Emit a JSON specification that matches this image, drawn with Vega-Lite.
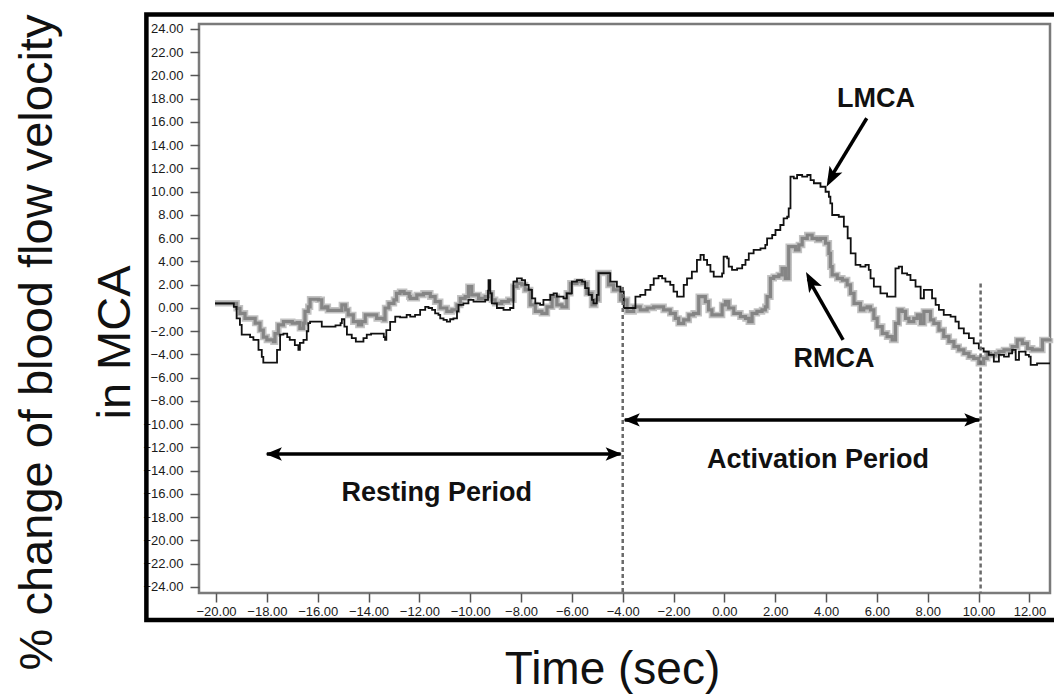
{
  "$schema": "https://vega.github.io/schema/vega-lite/v6.json",
  "width": 851,
  "height": 569,
  "autosize": "none",
  "padding": {"left": 199, "top": 24, "right": 4, "bottom": 102},
  "background": "white",
  "config": {
    "view": {"stroke": "#7a7a7a", "strokeWidth": 2.5},
    "font": "Liberation Sans"
  },
  "datasets": {
    "frame": [{"t": -22.74, "t2": 13.4, "v": -26.84, "v2": 25.25}],
    "lmca": [
      {"t": -20.04, "v": 0.4}, {"t": -19.3, "v": 0.1}, {"t": -19.19, "v": -0.9}, {"t": -19.06, "v": -1.46},
      {"t": -18.99, "v": -2.3}, {"t": -18.66, "v": -2.5}, {"t": -18.53, "v": -2.75}, {"t": -18.33, "v": -3.6},
      {"t": -18.2, "v": -4.2}, {"t": -18.14, "v": -4.7}, {"t": -17.6, "v": -3.6}, {"t": -17.48, "v": -2.3},
      {"t": -17.35, "v": -2.2}, {"t": -17.2, "v": -2.5}, {"t": -17.1, "v": -2.75}, {"t": -16.9, "v": -3.2},
      {"t": -16.76, "v": -3.6}, {"t": -16.7, "v": -3.0}, {"t": -16.56, "v": -2.75}, {"t": -16.43, "v": -2.0},
      {"t": -16.37, "v": -1.3}, {"t": -16.3, "v": -1.18}, {"t": -15.84, "v": -1.6}, {"t": -15.3, "v": -1.5},
      {"t": -15.1, "v": -1.3}, {"t": -15.05, "v": -0.97}, {"t": -14.95, "v": -1.6}, {"t": -14.85, "v": -2.3},
      {"t": -14.66, "v": -2.6}, {"t": -14.5, "v": -2.9}, {"t": -14.2, "v": -2.6}, {"t": -14.07, "v": -2.3},
      {"t": -13.9, "v": -2.2}, {"t": -13.4, "v": -2.5}, {"t": -13.35, "v": -2.75}, {"t": -13.3, "v": -1.9},
      {"t": -13.15, "v": -1.2}, {"t": -12.95, "v": -0.75}, {"t": -12.76, "v": -0.8}, {"t": -12.5, "v": -0.6},
      {"t": -12.36, "v": -0.75}, {"t": -12.17, "v": -0.6}, {"t": -11.97, "v": -0.17}, {"t": -11.77, "v": 0.1},
      {"t": -11.64, "v": 0.0}, {"t": -11.5, "v": -0.17}, {"t": -11.38, "v": -0.46}, {"t": -11.25, "v": -0.6},
      {"t": -11.18, "v": -0.9}, {"t": -11.05, "v": -1.03}, {"t": -10.92, "v": -1.18}, {"t": -10.79, "v": -0.97},
      {"t": -10.66, "v": -0.9}, {"t": -10.52, "v": -0.3}, {"t": -10.46, "v": 0.26}, {"t": -10.27, "v": 0.4},
      {"t": -10.07, "v": 0.7}, {"t": -9.87, "v": 0.54}, {"t": -9.41, "v": 0.7}, {"t": -9.3, "v": 1.5},
      {"t": -9.28, "v": 2.4}, {"t": -9.21, "v": 1.26}, {"t": -9.15, "v": 0.4}, {"t": -8.95, "v": 0.0},
      {"t": -8.69, "v": -0.17}, {"t": -8.43, "v": 0.0}, {"t": -8.3, "v": 2.26}, {"t": -8.16, "v": 2.55},
      {"t": -7.97, "v": 2.4}, {"t": -7.84, "v": 1.98}, {"t": -7.7, "v": 1.55}, {"t": -7.57, "v": 0.83},
      {"t": -7.44, "v": 0.4}, {"t": -7.25, "v": 0.26}, {"t": -7.12, "v": 0.7}, {"t": -6.85, "v": 1.12},
      {"t": -6.72, "v": 1.26}, {"t": -6.59, "v": 0.97}, {"t": -6.33, "v": 0.83}, {"t": -6.2, "v": 1.26},
      {"t": -6.0, "v": 2.26}, {"t": -5.8, "v": 2.4}, {"t": -5.6, "v": 2.26}, {"t": -5.48, "v": 1.7},
      {"t": -5.34, "v": 1.12}, {"t": -5.21, "v": 0.7}, {"t": -5.15, "v": 0.4}, {"t": -5.02, "v": 1.12},
      {"t": -4.95, "v": 3.0}, {"t": -4.62, "v": 3.0}, {"t": -4.49, "v": 2.26}, {"t": -4.23, "v": 1.83},
      {"t": -4.09, "v": 1.4}, {"t": -3.96, "v": 0.0}, {"t": -3.7, "v": 0.0}, {"t": -3.5, "v": 0.97},
      {"t": -3.31, "v": 1.12}, {"t": -3.11, "v": 1.55}, {"t": -2.91, "v": 1.98}, {"t": -2.78, "v": 2.55},
      {"t": -2.59, "v": 2.75}, {"t": -2.45, "v": 2.55}, {"t": -2.32, "v": 2.26}, {"t": -2.13, "v": 1.98},
      {"t": -2.0, "v": 1.4}, {"t": -1.86, "v": 0.97}, {"t": -1.6, "v": 1.98}, {"t": -1.47, "v": 2.55},
      {"t": -1.28, "v": 3.12}, {"t": -1.08, "v": 4.13}, {"t": -0.94, "v": 4.56}, {"t": -0.81, "v": 4.13},
      {"t": -0.68, "v": 3.7}, {"t": -0.55, "v": 3.12}, {"t": -0.42, "v": 2.69}, {"t": -0.09, "v": 2.98},
      {"t": -0.03, "v": 4.41}, {"t": 0.11, "v": 4.27}, {"t": 0.17, "v": 3.55}, {"t": 0.3, "v": 3.27},
      {"t": 0.5, "v": 3.41}, {"t": 0.7, "v": 3.7}, {"t": 0.83, "v": 4.13}, {"t": 0.96, "v": 4.7},
      {"t": 1.15, "v": 4.99}, {"t": 1.42, "v": 5.13}, {"t": 1.61, "v": 5.42}, {"t": 1.68, "v": 5.99},
      {"t": 1.88, "v": 6.28}, {"t": 2.01, "v": 6.71}, {"t": 2.2, "v": 7.14}, {"t": 2.33, "v": 7.71},
      {"t": 2.47, "v": 7.85}, {"t": 2.53, "v": 8.57}, {"t": 2.6, "v": 11.3}, {"t": 2.73, "v": 11.15},
      {"t": 2.86, "v": 11.44}, {"t": 3.06, "v": 11.3}, {"t": 3.26, "v": 11.44}, {"t": 3.39, "v": 11.0},
      {"t": 3.52, "v": 10.73}, {"t": 3.78, "v": 10.43}, {"t": 3.98, "v": 10.0}, {"t": 4.11, "v": 9.57},
      {"t": 4.17, "v": 9.0}, {"t": 4.24, "v": 8.0}, {"t": 4.5, "v": 7.85}, {"t": 4.7, "v": 7.0},
      {"t": 4.85, "v": 6.0}, {"t": 4.97, "v": 4.7}, {"t": 5.16, "v": 3.7}, {"t": 5.35, "v": 3.55},
      {"t": 5.55, "v": 3.7}, {"t": 5.68, "v": 3.27}, {"t": 5.75, "v": 2.55}, {"t": 5.88, "v": 1.83},
      {"t": 6.14, "v": 1.26}, {"t": 6.4, "v": 0.97}, {"t": 6.73, "v": 3.41}, {"t": 6.86, "v": 3.55},
      {"t": 6.99, "v": 2.98}, {"t": 7.19, "v": 2.84}, {"t": 7.32, "v": 2.4}, {"t": 7.52, "v": 1.83},
      {"t": 7.72, "v": 0.83}, {"t": 7.85, "v": 1.55}, {"t": 8.17, "v": 0.83}, {"t": 8.31, "v": 0.26},
      {"t": 8.44, "v": -0.17}, {"t": 8.63, "v": -0.6}, {"t": 8.9, "v": -0.75}, {"t": 9.09, "v": -1.18},
      {"t": 9.22, "v": -1.75}, {"t": 9.42, "v": -2.18}, {"t": 9.62, "v": -2.6}, {"t": 9.81, "v": -3.04},
      {"t": 10.01, "v": -3.47}, {"t": 10.2, "v": -3.76}, {"t": 10.4, "v": -4.04}, {"t": 10.6, "v": -4.62},
      {"t": 10.8, "v": -4.04}, {"t": 11.0, "v": -4.19}, {"t": 11.19, "v": -3.9}, {"t": 11.32, "v": -3.61},
      {"t": 11.46, "v": -4.47}, {"t": 11.59, "v": -3.76}, {"t": 11.85, "v": -4.04}, {"t": 11.98, "v": -4.19},
      {"t": 12.05, "v": -4.9}, {"t": 12.3, "v": -4.76}, {"t": 12.81, "v": -4.76}
    ],
    "rmca": [
      {"t": -20.04, "v": 0.4}, {"t": -19.3, "v": 0.4}, {"t": -19.19, "v": -0.03}, {"t": -19.06, "v": -0.46},
      {"t": -18.86, "v": -0.9}, {"t": -18.46, "v": -1.3}, {"t": -18.27, "v": -1.9}, {"t": -18.14, "v": -2.5},
      {"t": -18.0, "v": -2.75}, {"t": -17.74, "v": -2.9}, {"t": -17.68, "v": -2.2}, {"t": -17.55, "v": -1.46},
      {"t": -17.35, "v": -1.18}, {"t": -17.0, "v": -1.3}, {"t": -16.8, "v": -1.26}, {"t": -16.7, "v": -1.75},
      {"t": -16.56, "v": -1.3}, {"t": -16.5, "v": -0.3}, {"t": -16.37, "v": 0.1}, {"t": -16.3, "v": 0.75},
      {"t": -15.97, "v": 0.7}, {"t": -15.84, "v": 0.0}, {"t": -15.7, "v": 0.1}, {"t": -15.6, "v": -0.2},
      {"t": -15.05, "v": 0.26}, {"t": -14.9, "v": -0.17}, {"t": -14.8, "v": -0.6}, {"t": -14.6, "v": -1.18},
      {"t": -14.4, "v": -1.46}, {"t": -14.27, "v": -1.18}, {"t": -14.13, "v": -0.6}, {"t": -13.68, "v": -0.9},
      {"t": -13.4, "v": -1.03}, {"t": -13.35, "v": 0.0}, {"t": -13.2, "v": 0.4}, {"t": -13.0, "v": 0.7},
      {"t": -12.9, "v": 1.26}, {"t": -12.76, "v": 1.4}, {"t": -12.6, "v": 1.26}, {"t": -12.4, "v": 0.97},
      {"t": -12.36, "v": 0.83}, {"t": -12.1, "v": 1.12}, {"t": -11.84, "v": 1.26}, {"t": -11.57, "v": 0.97},
      {"t": -11.38, "v": 0.54}, {"t": -11.18, "v": 0.0}, {"t": -10.92, "v": -0.3}, {"t": -10.72, "v": -0.17},
      {"t": -10.52, "v": 0.26}, {"t": -10.39, "v": 0.83}, {"t": -10.2, "v": 0.97}, {"t": -10.07, "v": 1.83},
      {"t": -9.94, "v": 1.12}, {"t": -9.67, "v": 0.83}, {"t": -9.41, "v": 0.97}, {"t": -9.28, "v": 1.26},
      {"t": -9.15, "v": 0.7}, {"t": -9.02, "v": 0.4}, {"t": -8.76, "v": 0.54}, {"t": -8.5, "v": 0.7},
      {"t": -8.3, "v": 1.83}, {"t": -8.16, "v": 2.12}, {"t": -7.97, "v": 1.98}, {"t": -7.84, "v": 1.55},
      {"t": -7.64, "v": 0.26}, {"t": -7.44, "v": -0.3}, {"t": -7.18, "v": -0.46}, {"t": -6.98, "v": 0.1},
      {"t": -6.78, "v": 0.97}, {"t": -6.59, "v": 0.26}, {"t": -6.39, "v": 0.1}, {"t": -6.2, "v": 1.26},
      {"t": -6.06, "v": 2.12}, {"t": -5.8, "v": 2.26}, {"t": -5.6, "v": 2.12}, {"t": -5.41, "v": 1.26},
      {"t": -5.21, "v": 0.26}, {"t": -5.08, "v": 0.7}, {"t": -4.95, "v": 3.0}, {"t": -4.62, "v": 3.0},
      {"t": -4.56, "v": 1.98}, {"t": -4.36, "v": 1.55}, {"t": -4.09, "v": 0.7}, {"t": -3.83, "v": -0.3},
      {"t": -3.57, "v": 0.1}, {"t": -3.31, "v": -0.17}, {"t": -3.04, "v": 0.0}, {"t": -2.78, "v": 0.1},
      {"t": -2.39, "v": -0.17}, {"t": -2.13, "v": -0.46}, {"t": -1.93, "v": -0.9}, {"t": -1.8, "v": -1.32},
      {"t": -1.6, "v": -1.03}, {"t": -1.4, "v": -0.6}, {"t": -1.21, "v": -0.46}, {"t": -1.01, "v": 0.97},
      {"t": -0.75, "v": 0.54}, {"t": -0.62, "v": -0.17}, {"t": -0.49, "v": -0.6}, {"t": -0.09, "v": 0.26},
      {"t": 0.04, "v": 0.54}, {"t": 0.17, "v": 0.0}, {"t": 0.37, "v": -0.46}, {"t": 0.63, "v": -0.75},
      {"t": 0.83, "v": -0.9}, {"t": 0.96, "v": -1.18}, {"t": 1.09, "v": -0.46}, {"t": 1.28, "v": -0.3},
      {"t": 1.48, "v": -0.17}, {"t": 1.61, "v": 0.1}, {"t": 1.68, "v": 0.97}, {"t": 1.81, "v": 2.55},
      {"t": 1.94, "v": 2.69}, {"t": 2.14, "v": 2.84}, {"t": 2.27, "v": 3.41}, {"t": 2.4, "v": 2.55},
      {"t": 2.53, "v": 5.27}, {"t": 2.8, "v": 4.99}, {"t": 2.93, "v": 5.42}, {"t": 3.06, "v": 5.99},
      {"t": 3.26, "v": 6.28}, {"t": 3.45, "v": 5.99}, {"t": 3.65, "v": 5.85}, {"t": 3.78, "v": 5.99},
      {"t": 3.98, "v": 5.57}, {"t": 4.11, "v": 4.7}, {"t": 4.17, "v": 3.55}, {"t": 4.24, "v": 2.84},
      {"t": 4.44, "v": 2.55}, {"t": 4.64, "v": 2.4}, {"t": 4.83, "v": 1.98}, {"t": 4.96, "v": 1.26},
      {"t": 5.1, "v": 0.4}, {"t": 5.35, "v": -0.17}, {"t": 5.48, "v": 0.0}, {"t": 5.62, "v": 0.1},
      {"t": 5.75, "v": -0.17}, {"t": 5.88, "v": -0.9}, {"t": 6.01, "v": -1.6}, {"t": 6.21, "v": -2.18},
      {"t": 6.4, "v": -2.47}, {"t": 6.6, "v": -2.75}, {"t": 6.73, "v": -1.32}, {"t": 6.86, "v": -0.17},
      {"t": 6.99, "v": -0.3}, {"t": 7.13, "v": -0.9}, {"t": 7.26, "v": -1.18}, {"t": 7.45, "v": -0.9},
      {"t": 7.59, "v": -0.6}, {"t": 7.72, "v": -1.32}, {"t": 7.85, "v": -0.3}, {"t": 8.11, "v": -1.03},
      {"t": 8.24, "v": -1.32}, {"t": 8.44, "v": -1.9}, {"t": 8.63, "v": -2.47}, {"t": 8.83, "v": -2.9},
      {"t": 9.03, "v": -3.33}, {"t": 9.22, "v": -3.61}, {"t": 9.42, "v": -3.9}, {"t": 9.62, "v": -4.19},
      {"t": 9.81, "v": -4.33}, {"t": 10.01, "v": -4.76}, {"t": 10.2, "v": -4.33}, {"t": 10.34, "v": -3.9},
      {"t": 10.47, "v": -4.04}, {"t": 10.67, "v": -3.9}, {"t": 10.8, "v": -3.76}, {"t": 11.0, "v": -3.61},
      {"t": 11.32, "v": -3.33}, {"t": 11.52, "v": -2.75}, {"t": 11.72, "v": -3.04}, {"t": 11.92, "v": -3.47},
      {"t": 12.11, "v": -3.61}, {"t": 12.51, "v": -2.75}, {"t": 12.81, "v": -2.6}
    ],
    "periods": [
      {"t": -4.0, "v": 1.8, "v2": -24.52},
      {"t": 10.08, "v": 2.1, "v2": -24.52}
    ],
    "shafts": [
      {"t": -18.0, "v": -12.56, "t2": -4.08, "v2": -12.56},
      {"t": -3.92, "v": -9.63, "t2": 10.03, "v2": -9.63},
      {"t": 5.6, "v": 16.32, "t2": 4.12, "v2": 11.0},
      {"t": 4.67, "v": -2.75, "t2": 3.3, "v2": 2.5}
    ],
    "headsLeft": [{"t": -18.05, "v": -12.56}, {"t": -3.97, "v": -9.63}],
    "headsRight": [{"t": -4.03, "v": -12.56}, {"t": 10.08, "v": -9.63}],
    "headLMCA": [{"t": 4.02, "v": 10.43}],
    "headRMCA": [{"t": 3.21, "v": 3.1}],
    "labels": [
      {"t": 5.96, "v": 18.0, "text": "LMCA"},
      {"t": 4.31, "v": -4.35, "text": "RMCA"},
      {"t": -11.32, "v": -15.9, "text": "Resting Period"},
      {"t": 3.68, "v": -13.1, "text": "Activation Period"}
    ]
  },
  "encoding": {
    "x": {
      "field": "t",
      "type": "quantitative",
      "scale": {"domain": [-20.67, 12.81], "nice": false, "zero": false},
      "axis": {
        "title": "Time (sec)",
        "values": [-20, -18, -16, -14, -12, -10, -8, -6, -4, -2, 0, 2, 4, 6, 8, 10, 12],
        "format": ".2f",
        "grid": false,
        "domain": false,
        "tickSize": 9,
        "tickWidth": 1.5,
        "tickColor": "#555555",
        "labelFontSize": 13,
        "labelColor": "#1a1a1a",
        "labelPadding": 3,
        "labelFlush": false,
        "labelOverlap": false,
        "titleFontSize": 46,
        "titleFontWeight": "normal",
        "titleColor": "#111111",
        "titleX": 413,
        "titleY": 90,
        "titleAlign": "center",
        "titleBaseline": "alphabetic"
      }
    },
    "y": {
      "field": "v",
      "type": "quantitative",
      "scale": {"domain": [-24.52, 24.43], "nice": false, "zero": false},
      "axis": {
        "title": ["% change of blood flow velocity", "in MCA"],
        "values": [-24, -22, -20, -18, -16, -14, -12, -10, -8, -6, -4, -2, 0, 2, 4, 6, 8, 10, 12, 14, 16, 18, 20, 22, 24],
        "format": ".2f",
        "grid": false,
        "domain": false,
        "tickSize": 9,
        "tickWidth": 1.5,
        "tickColor": "#555555",
        "labelFontSize": 13,
        "labelColor": "#1a1a1a",
        "labelPadding": 7,
        "labelFlush": false,
        "labelOverlap": false,
        "titleFontSize": 47,
        "titleFontWeight": "normal",
        "titleColor": "#111111",
        "titleAngle": -90,
        "titleX": -148,
        "titleY": 318,
        "titleAlign": "center",
        "titleBaseline": "alphabetic",
        "titleLineHeight": 78
      }
    }
  },
  "layer": [
    {
      "data": {"name": "frame"},
      "mark": {"type": "rect", "fillOpacity": 0, "stroke": "#000000", "strokeWidth": 4.5},
      "encoding": {"x2": {"field": "t2"}, "y2": {"field": "v2"}}
    },
    {
      "data": {"name": "rmca"},
      "mark": {"type": "line", "interpolate": "step-after", "color": "#c2c2c2", "strokeWidth": 6.5},
      "encoding": {}
    },
    {
      "data": {"name": "rmca"},
      "mark": {"type": "line", "interpolate": "step-after", "color": "#858585", "strokeWidth": 3.2},
      "encoding": {}
    },
    {
      "data": {"name": "lmca"},
      "mark": {"type": "line", "interpolate": "step-after", "color": "#111111", "strokeWidth": 1.8},
      "encoding": {}
    },
    {
      "data": {"name": "periods"},
      "mark": {"type": "rule", "color": "#6a6a6a", "strokeWidth": 2.5, "strokeDash": [4, 3]},
      "encoding": {"y2": {"field": "v2"}}
    },
    {
      "data": {"name": "shafts"},
      "mark": {"type": "rule", "color": "#000000", "strokeWidth": 3.5},
      "encoding": {"x2": {"field": "t2"}, "y2": {"field": "v2"}}
    },
    {
      "data": {"name": "headsLeft"},
      "mark": {"type": "point", "shape": "M0,0L0.9,2.2L0,1.7L-0.9,2.2Z", "filled": true, "color": "#000000", "opacity": 1, "size": 220, "angle": 270},
      "encoding": {}
    },
    {
      "data": {"name": "headsRight"},
      "mark": {"type": "point", "shape": "M0,0L0.9,2.2L0,1.7L-0.9,2.2Z", "filled": true, "color": "#000000", "opacity": 1, "size": 220, "angle": 90},
      "encoding": {}
    },
    {
      "data": {"name": "headLMCA"},
      "mark": {"type": "point", "shape": "M0,0L0.8,2.2L0,1.7L-0.8,2.2Z", "filled": true, "color": "#000000", "opacity": 1, "size": 330, "angle": 208},
      "encoding": {}
    },
    {
      "data": {"name": "headRMCA"},
      "mark": {"type": "point", "shape": "M0,0L0.8,2.2L0,1.7L-0.8,2.2Z", "filled": true, "color": "#000000", "opacity": 1, "size": 330, "angle": 331.5},
      "encoding": {}
    },
    {
      "data": {"name": "labels"},
      "mark": {"type": "text", "font": "Liberation Sans", "fontWeight": "bold", "fontSize": 27, "color": "#111111", "align": "center", "baseline": "middle"},
      "encoding": {"text": {"field": "text"}}
    }
  ]
}
